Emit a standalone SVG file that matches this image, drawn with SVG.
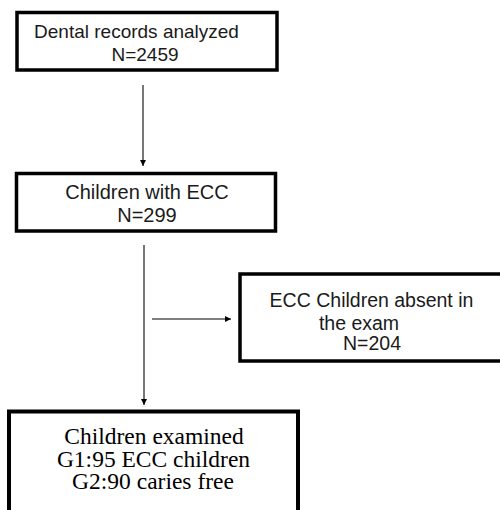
<svg xmlns="http://www.w3.org/2000/svg" width="500" height="510" viewBox="0 0 500 510">
<defs>
<style>
.box{fill:#fff;stroke:#000;stroke-width:3.5}
.sans{font-family:"Liberation Sans",Arial,sans-serif;fill:#1a1a1a;text-anchor:middle}
.serif{font-family:"Liberation Serif","Times New Roman",serif;fill:#000;text-anchor:middle;font-size:23.5px}
.conn{stroke:#555;stroke-width:1.6;fill:none}
</style>
<marker id="ah" viewBox="0 0 10 10" refX="10" refY="5" markerWidth="6" markerHeight="6" markerUnits="userSpaceOnUse" orient="auto">
<path d="M0,0 L10,5 L0,10 z" fill="#000"/>
</marker>
</defs>
<rect width="500" height="510" fill="#fff"/>
<g id="connectors">
<line class="conn" x1="143" y1="85" x2="143" y2="166" marker-end="url(#ah)"/>
<line class="conn" x1="144" y1="245" x2="144" y2="405" marker-end="url(#ah)"/>
<line class="conn" x1="152" y1="319" x2="231" y2="319" marker-end="url(#ah)"/>
</g>
<g id="node-records">
<rect class="box" x="17" y="12.5" width="260" height="57.5"/>
<text class="sans" font-size="19" x="136.5" y="38">Dental records analyzed</text>
<text class="sans" font-size="19" x="145" y="61">N=2459</text>
</g>
<g id="node-ecc">
<rect class="box" x="16.5" y="173.5" width="259" height="57.5"/>
<text class="sans" font-size="20" x="147" y="199">Children with ECC</text>
<text class="sans" font-size="20" x="147" y="222">N=299</text>
</g>
<g id="node-absent">
<rect class="box" x="240" y="274" width="264" height="87"/>
<text class="sans" font-size="19.5" x="371.5" y="307">ECC Children absent in</text>
<text class="sans" font-size="19.5" x="359" y="330">the exam</text>
<text class="sans" font-size="19.5" x="372" y="350">N=204</text>
</g>
<g id="node-examined">
<rect class="box" x="9" y="411.5" width="289" height="110" style="stroke-width:4"/>
<text class="serif" x="154" y="444">Children examined</text>
<text class="serif" x="153.5" y="466.5">G1:95 ECC children</text>
<text class="serif" x="153" y="489">G2:90 caries free</text>
</g>
</svg>
